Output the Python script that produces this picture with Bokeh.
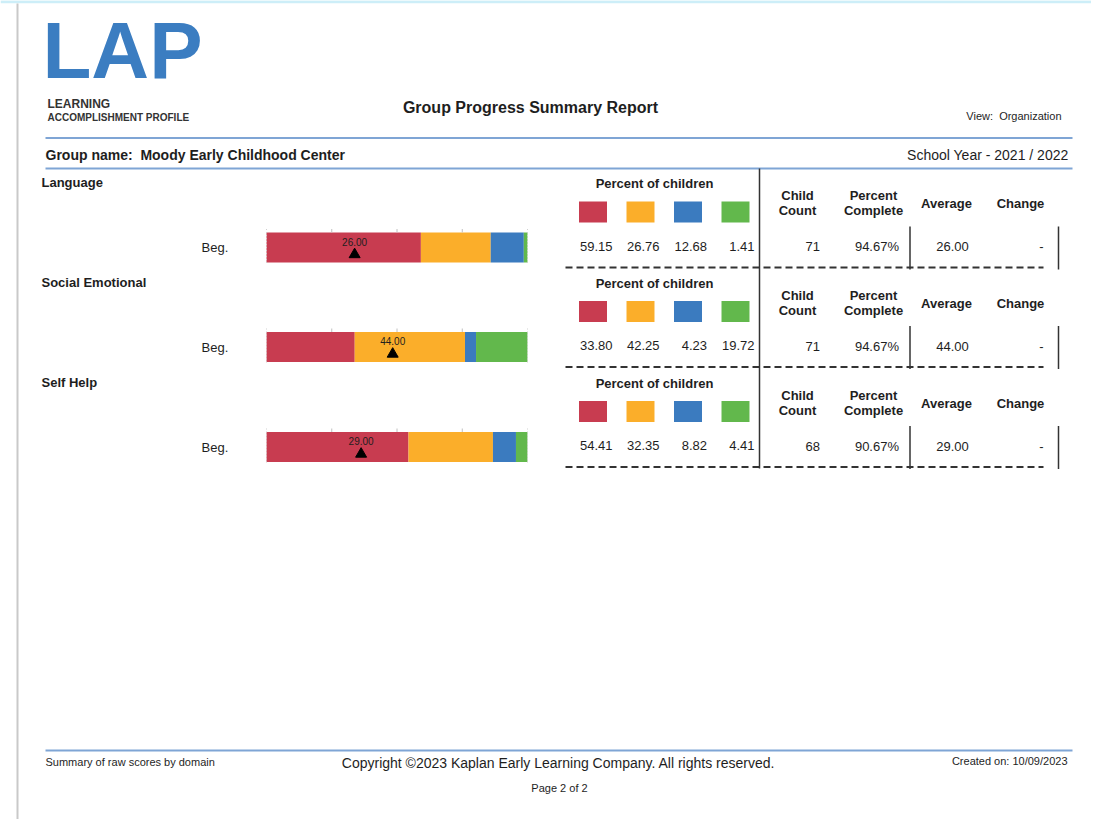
from bokeh.plotting import figure
from bokeh.models import ColumnDataSource, Range1d
from bokeh.core.properties import value
from bokeh.embed import file_html
from bokeh.resources import INLINE

# ---------------- data ----------------
domains = ["Language", "Social Emotional", "Self Help"]
levels = ["Beg.", "Beg.", "Beg."]
pct_red = [59.15, 33.80, 54.41]
pct_orange = [26.76, 42.25, 32.35]
pct_blue = [12.68, 4.23, 8.82]
pct_green = [1.41, 19.72, 4.41]
child_count = [71, 71, 68]
percent_complete = [94.67, 94.67, 90.67]
average = [26.00, 44.00, 29.00]
change = ["-", "-", "-"]
domain_max = [77, 91, 80]
band_colors = ["#c83c50", "#fbae2a", "#3b7bbf", "#62b84c"]

title = "Group Progress Summary Report"
view_label = "View:\u00a0 Organization"
group_label = "Group name:\u00a0 Moody Early Childhood Center"
year_label = "School Year - 2021 / 2022"
footer_left = "Summary of raw scores by domain"
footer_mid = "Copyright \u00a92023 Kaplan Early Learning Company. All rights reserved."
footer_right = "Created on: 10/09/2023"
page_label = "Page 2 of 2"

# ---------------- layout ----------------
W, H = 1091, 819
BAR_X0, BAR_W = 266, 261
ROW_OFF = [0, 99.5, 199.5]
FONT = value("Liberation Sans")
INK = "#1e1e1e"
RULE_BLUE = "#7fa5d5"


def Y(v):
    return -v


p = figure(width=W, height=H, x_range=Range1d(0, W), y_range=Range1d(-H, 0),
           output_backend="svg", toolbar_location=None,
           min_border=0, outline_line_color=None)
p.axis.visible = False
p.grid.visible = False
p.extra_x_ranges = {"pct": Range1d((0 - BAR_X0) / BAR_W * 100, (W - BAR_X0) / BAR_W * 100)}


def seg(xs, y0s, y1s=None, x1s=None, **kw):
    x1s = list(xs) if x1s is None else x1s
    y1s = list(y0s) if y1s is None else y1s
    p.segment(x0=list(xs), y0=[Y(v) for v in y0s], x1=x1s, y1=[Y(v) for v in y1s], **kw)


# ---------- page frame ----------
seg([0], [1.2], x1s=[W], line_color="#cdeef8", line_width=3)
seg([17], [3], [H], line_color="#c9c9c9", line_width=2)

# ---------- rules ----------
seg([45, 45, 45], [137.5, 168, 750], x1s=[1072, 1072, 1072], line_color=RULE_BLUE, line_width=2)

# stacked bars (percent scale)
lefts, rights, cols, ys = [], [], [], []
bands = [pct_red, pct_orange, pct_blue, pct_green]
for i, o in enumerate(ROW_OFF):
    acc = 0.0
    for b, c in zip(bands, band_colors):
        lefts.append(acc)
        acc += b[i]
        rights.append(acc)
        cols.append(c)
        ys.append(Y(247 + o))
bar_src = ColumnDataSource(dict(left=lefts, right=rights, y=ys, color=cols))
p.hbar(y="y", left="left", right="right", height=30, fill_color="color", line_color=None,
       source=bar_src, x_range_name="pct")

for o in ROW_OFF:
    seg([25, 50, 75], [228.5 + o] * 3, [232 + o] * 3, line_color="#c0c0c0", line_width=1,
        x_range_name="pct")
    seg([0, 100], [228.5 + o] * 2, [262.5 + o] * 2, line_color="#d0d0d0", line_width=1,
        line_dash="1 2", x_range_name="pct")

mk_src = ColumnDataSource(dict(
    mx=[a / m * 100 for a, m in zip(average, domain_max)],
    my=[Y(254 + o) for o in ROW_OFF], ly=[Y(241 + o) for o in ROW_OFF],
    avg_txt=[f"{a:.2f}" for a in average],
))
p.scatter(x="mx", y="my", source=mk_src, marker="triangle", size=11, fill_color="black",
          line_color="black", x_range_name="pct")

sq_xc = [592.5, 640, 687.5, 735]
val_xr = [612, 659, 706.5, 754]
for i, o in enumerate(ROW_OFF):
    p.rect(x=sq_xc, y=[Y(211.5 + o)] * 4, width=28, height=21, fill_color=band_colors,
           line_color=None)
    seg([909.5, 1058], [226 + o] * 2, [269 + o] * 2, line_color="#333333", line_width=1.5)
    seg([565], [267 + o], x1s=[1043], line_color="#333333", line_width=2, line_dash="7 4")
seg([759], [168], [468], line_color="#333333", line_width=1.5)

# ---------- texts ----------
tx, ty, tt, tsize, tbold, talign = [], [], [], [], [], []


def txt(x, y, s, size, bold=False, align="left"):
    tx.append(x)
    ty.append(Y(y))
    tt.append(s)
    tsize.append(size)
    tbold.append("bold" if bold else "normal")
    talign.append(align)


txt(530, 107, title, "16px", bold=True, align="center")
txt(1061, 115, view_label, "11px", align="right")
txt(45, 154, group_label, "14px", bold=True)
txt(1068, 154, year_label, "14px", align="right")
txt(45, 761, footer_left, "11px")
txt(558, 762, footer_mid, "14px", align="center")
txt(1067, 760, footer_right, "11px", align="right")
txt(559, 787, page_label, "11px", align="center")

for i, o in enumerate(ROW_OFF):
    txt(41, 182 + o, domains[i], "13px", bold=True)
    txt(201, 247 + o, levels[i], "13px")
    txt(654, 183 + o, "Percent of children", "13px", bold=True, align="center")
    for b, xr in zip(bands, val_xr):
        txt(xr, 245.5 + o, f"{b[i]:.2f}", "13px", align="right")
    txt(797, 195 + o, "Child", "13px", bold=True, align="center")
    txt(797, 210 + o, "Count", "13px", bold=True, align="center")
    txt(873, 195 + o, "Percent", "13px", bold=True, align="center")
    txt(873, 210 + o, "Complete", "13px", bold=True, align="center")
    txt(946, 203 + o, "Average", "13px", bold=True, align="center")
    txt(1020, 203 + o, "Change", "13px", bold=True, align="center")
    txt(819.5, 246 + o, f"{child_count[i]}", "13px", align="right")
    txt(898.5, 246 + o, f"{percent_complete[i]:.2f}%", "13px", align="right")
    txt(952, 246 + o, f"{average[i]:.2f}", "13px", align="center")
    txt(1041, 246 + o, change[i], "13px", align="center")

txt_src = ColumnDataSource(dict(x=tx, y=ty, text=tt, size=tsize, style=tbold, align=talign))
p.text(x="x", y="y", text="text", source=txt_src, text_font=FONT, text_font_size="size",
       text_font_style="style", text_align="align", text_baseline="middle", text_color=INK)

p.text(x="mx", y="ly", text="avg_txt", source=mk_src, text_font=FONT, text_font_size="10px",
       text_align="center", text_baseline="middle", text_color=INK, x_range_name="pct")

# logo
LOGO_BLUE = "#3b7dc1"
p.text(x=[42], y=[Y(50)], text=["LAP"], text_font=FONT, text_font_size="80px",
       text_font_style="bold", text_baseline="middle", text_color=LOGO_BLUE)
p.text(x=[47, 47], y=[Y(103), Y(117)], text=["LEARNING", "ACCOMPLISHMENT PROFILE"],
       text_font=FONT, text_font_size=["12px", "10px"], text_font_style="bold",
       text_baseline="middle", text_color="#333333")

open("out.html", "w").write(file_html(p, INLINE))
